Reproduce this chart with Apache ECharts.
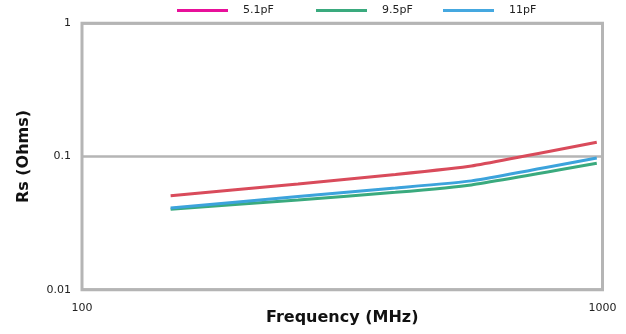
<!DOCTYPE html>
<html>
<head>
<meta charset="utf-8">
<script src="https://cdn.jsdelivr.net/npm/echarts@6/dist/echarts.min.js"></script>
<style>html,body{margin:0;padding:0;background:#fff;}#c{width:626px;height:334px;}</style>
</head>
<body>
<div id="c"></div>
<script>
var frequencies = [148, 260, 400, 560, 975];
var seriesNames = ['5.1pF', '9.5pF', '11pF'];
var rs51 = [0.0508, 0.0622, 0.0733, 0.0849, 0.128];
var rs95 = [0.0402, 0.0472, 0.0538, 0.0612, 0.089];
var rs11 = [0.0411, 0.0500, 0.0580, 0.0656, 0.0975];
var xTickLabels = {100: '100', 1000: '1000'};
var lineColors = ['#d94b5b', '#3aaa7e', '#3ca3dc'];
var legendColors = ['#e8109a', '#3aaa7e', '#45a8e0'];
var values = [rs51, rs95, rs11];

function pairs(v){ return frequencies.map(function(f,i){ return [f, v[i]]; }); }

var FONT = 'DejaVu Sans';
var legendLefts = [177, 316, 443];
var legends = seriesNames.map(function(n, i){
  return {
    left: legendLefts[i], top: 5, padding: 0,
    icon: 'rect', itemWidth: 51, itemHeight: 3,
    data: [{name: n, itemStyle: {color: legendColors[i]}}],
    textStyle: {fontFamily: FONT, fontSize: 11, color: '#222', padding: [0,0,3,10]},
    selectedMode: false
  };
});

var option = {
  animation: false,
  legend: legends,
  grid: {left: 82, right: 23.5, top: 23.3, bottom: 44.3, show: true,
         outerBoundsMode: 'none', containLabel: false,
         borderColor: '#b5b5b5', borderWidth: 3, backgroundColor: 'transparent'},
  xAxis: {
    type: 'log', logBase: 10, min: 100, max: 1000,
    name: 'Frequency (MHz)', nameLocation: 'middle', nameGap: 20, nameMoveOverlap: false,
    nameTextStyle: {fontFamily: FONT, fontSize: 16, fontWeight: 'bold', color: '#111'},
    axisLine: {show: false}, axisTick: {show: false}, splitLine: {show: false},
    minorTick: {show: false},
    axisLabel: {fontFamily: FONT, fontSize: 11, color: '#222', margin: 13,
      formatter: function(v){ var k = Math.round(v); return xTickLabels[k] || String(k); }}
  },
  yAxis: {
    type: 'log', logBase: 10, min: 0.01, max: 1,
    name: 'Rs (Ohms)', nameLocation: 'middle', nameGap: 50, nameMoveOverlap: false,
    nameTextStyle: {fontFamily: FONT, fontSize: 16, fontWeight: 'bold', color: '#111'},
    axisLine: {show: false}, axisTick: {show: false},
    splitLine: {show: true, lineStyle: {color: '#b5b5b5', width: 2.5}},
    axisLabel: {fontFamily: FONT, fontSize: 11, color: '#222', margin: 11,
      formatter: function(v){ return String(+v.toPrecision(3)); }}
  },
  series: seriesNames.map(function(n, i){
    return {
      name: n, type: 'line', data: pairs(values[i]), symbol: 'none', smooth: 0.12,
      lineStyle: {color: lineColors[i], width: 3}, itemStyle: {color: lineColors[i]}
    };
  })
};
var chart = echarts.init(document.getElementById('c'), null, {renderer: 'canvas'});
chart.setOption(option);
</script>
</body>
</html>
